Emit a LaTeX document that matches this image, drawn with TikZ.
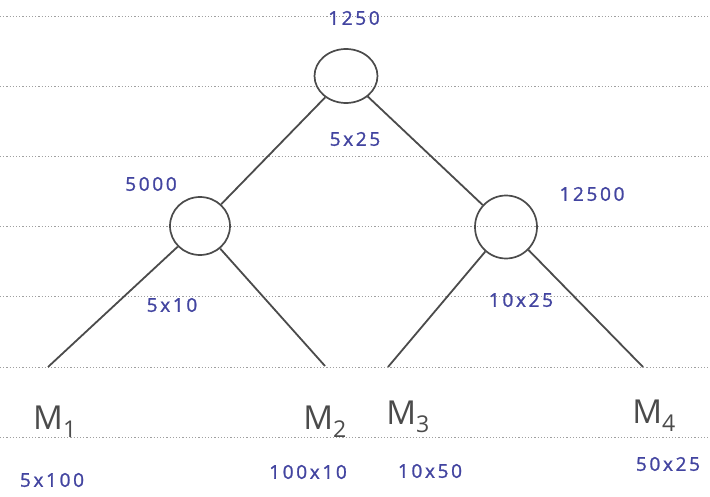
\documentclass[tikz,border=0pt]{standalone}
\usepackage{fontspec}
\setmainfont{Open Sans}
\newfontfamily\inkfont[LetterSpace=14,FakeBold=1.2]{Open Sans}
\usetikzlibrary{shapes.geometric}
\definecolor{ink}{RGB}{66,68,160}
\definecolor{pencil}{RGB}{75,75,75}
\definecolor{rulecol}{RGB}{160,160,160}
\tikzset{
  rulerline/.style={draw=rulecol, dash pattern=on 1.2pt off 2pt, line width=1pt},
  ring/.style={ellipse, draw=pencil, line width=1.7pt, inner sep=0pt},
  edge/.style={draw=pencil, line width=1.8pt},
  num/.style={text=ink, font=\inkfont\fontsize{19}{19}\selectfont, inner sep=0pt},
  leaf/.style={text=pencil, font=\fontsize{33}{33}\selectfont, inner sep=0pt}
}
\begin{document}
\begin{tikzpicture}[x=1pt,y=-1pt]
\fill[white] (0,0) rectangle (710,497);
\useasboundingbox (0,0) rectangle (710,497);
\foreach \yy in {17,87,157,227,297,367,437}
  \draw[rulerline] (0,\yy) -- (710,\yy);

% inner nodes
\node[ring, minimum width=63pt, minimum height=54pt] (root) at (346,76) {};
\node[ring, minimum width=60pt, minimum height=58pt] (lc) at (200,226) {};
\node[ring, minimum width=62pt, minimum height=63pt] (rc) at (506,227) {};

% leaf line ends
\coordinate (e1) at (48,367);
\coordinate (e2) at (325,366);
\coordinate (e3) at (388,367);
\coordinate (e4) at (643,367);

% connectors
\draw[edge] (root) -- (lc);
\draw[edge] (root) -- (rc);
\draw[edge] (lc) -- (e1);
\draw[edge] (lc) -- (e2);
\draw[edge] (rc) -- (e3);
\draw[edge] (rc) -- (e4);

% numbers
\node[num] (t1250) at (354,18) {1250};
\node[num] (t5x25) at (355,139) {5x25};
\node[num] (t5000) at (151,184) {5000};
\node[num] (t5x10) at (172,305) {5x10};
\node[num] (t12500) at (592,194) {12500};
\node[num] (t10x25) at (521,300) {10x25};

% leaves
\node[leaf] (m1) at (55,422) {M\textsubscript{1}};
\node[leaf] (m2) at (325,422) {M\textsubscript{2}};
\node[leaf] (m3) at (408,417) {M\textsubscript{3}};
\node[leaf] (m4) at (654,416) {M\textsubscript{4}};

\node[num] (d1) at (52,480) {5x100};
\node[num] (d2) at (308,472) {100x10};
\node[num] (d3) at (430,471) {10x50};
\node[num] (d4) at (668,464) {50x25};
\end{tikzpicture}
\end{document}
